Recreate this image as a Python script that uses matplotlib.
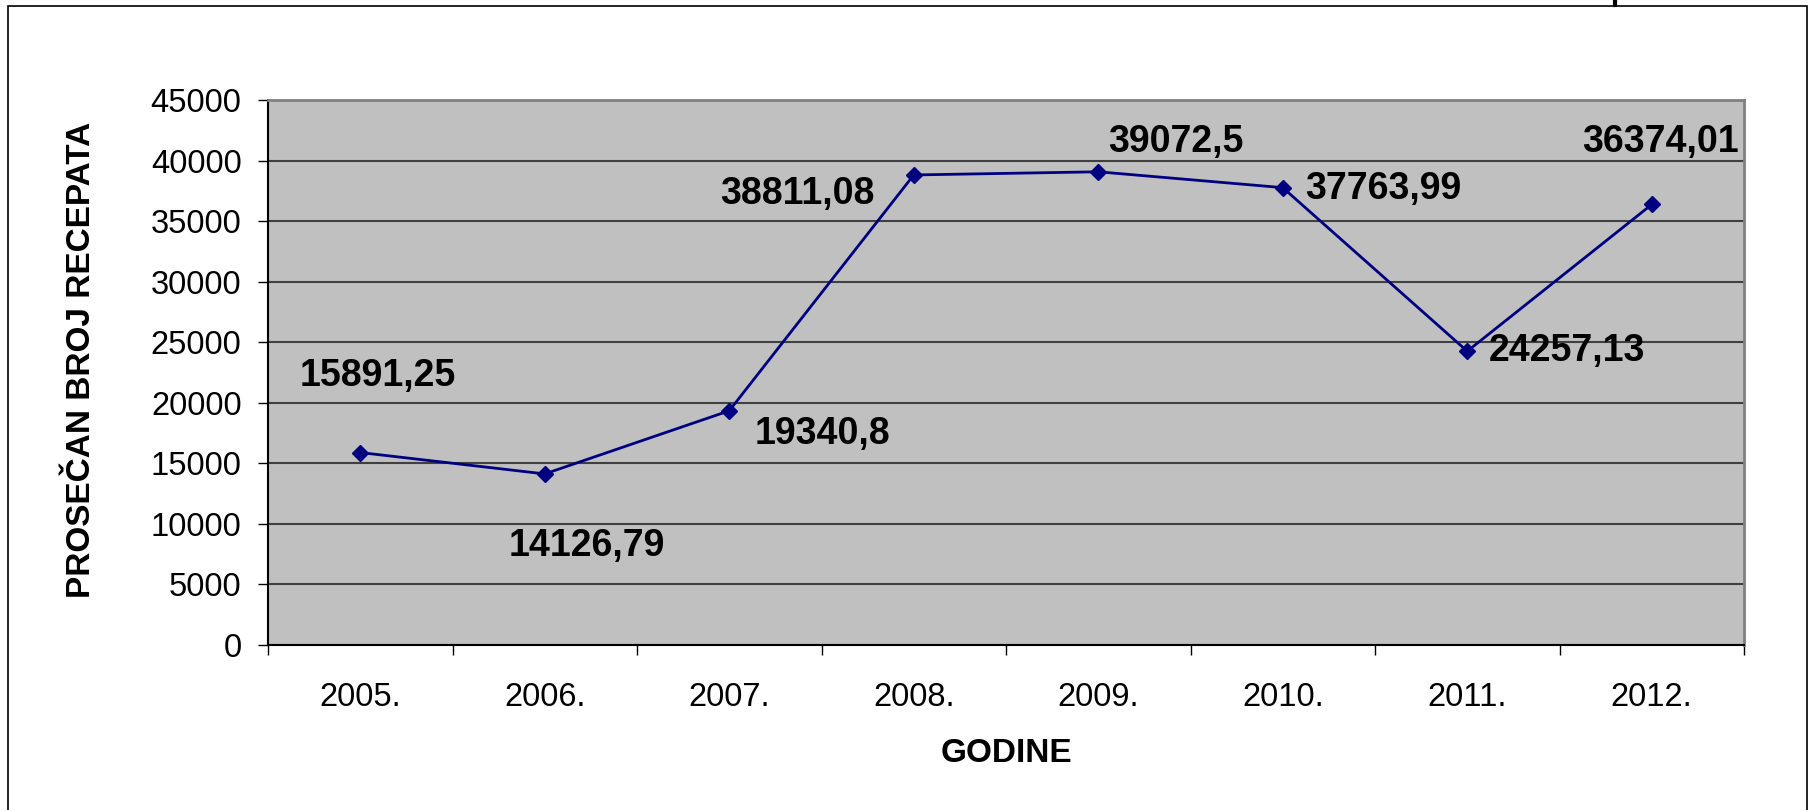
import matplotlib.pyplot as plt
from matplotlib.patches import Rectangle
from matplotlib.lines import Line2D

# data
years = ['2005.', '2006.', '2007.', '2008.', '2009.', '2010.', '2011.', '2012.']
values = [15891.25, 14126.79, 19340.8, 38811.08, 39072.5, 37763.99, 24257.13, 36374.01]
labels = ['15891,25', '14126,79', '19340,8', '38811,08', '39072,5', '37763,99', '24257,13', '36374,01']
# label offsets in pixels (dx, dy) from each point
offsets = [(18, 77), (42, -72), (93, -23), (-116, -19), (78, 30), (101, -1), (100, 0), (9, 62)]
yticks = list(range(0, 45001, 5000))

plt.rcParams['font.family'] = ['Liberation Sans', 'DejaVu Sans']

W, H = 1812, 810
fig = plt.figure(figsize=(W/100, H/100), dpi=100)
# plot area in pixels: left 268, right 1744, top 100, bottom 645
ax = fig.add_axes([268/W, 1-645/H, (1744-268)/W, (645-100)/H])
ax.set_facecolor('#c0c0c0')

x = list(range(len(years)))
ax.plot(x, values, color='#000080', lw=2, marker='D', ms=8.5, mec='#000080', mfc='#000080', zorder=3)

ax.set_xlim(-0.5, len(years)-0.5)
ax.set_ylim(0, 45000)
ax.set_yticks(yticks)
ax.set_yticklabels([str(v) for v in yticks], fontsize=23.5)
ax.yaxis.grid(True, color='#404040', lw=1.5)
ax.set_axisbelow(True)

# categories between ticks
ax.set_xticks(x)
ax.set_xticklabels(years, fontsize=23.5)
ax.set_xticks([i - 0.5 for i in range(len(years)+1)], minor=True)
ax.tick_params(axis='x', which='major', length=0, pad=27)
ax.tick_params(axis='x', which='minor', length=7, width=1, color='black')
ax.tick_params(axis='y', length=7, width=1, pad=12)

for s in ['left', 'bottom']:
    ax.spines[s].set_color('black')
    ax.spines[s].set_linewidth(1.5)
for s in ['top', 'right']:
    ax.spines[s].set_color('#808080')
    ax.spines[s].set_linewidth(2)

for xi, v, lab, (dx, dy) in zip(x, values, labels, offsets):
    ax.annotate(lab, (xi, v), xytext=(dx*0.72, dy*0.72), textcoords='offset points',
                ha='center', va='center', fontsize=27, fontweight='bold', color='black')

fig.text(82/W, 1-360/H, 'PROSEČAN BROJ RECEPATA', rotation=90, ha='center', va='center',
         fontsize=24, fontweight='bold')
fig.text(1006/W, 1-754/H, 'GODINE', ha='center', va='center', fontsize=24, fontweight='bold')

# leftover stroke of page text above the frame
fig.add_artist(Line2D([1615/W, 1615/W], [1, 1-5/H], color='black', lw=3))

# outer border (bottom edge is cut off)
fig.patches.append(Rectangle((8/W, -0.05), (1807-8)/W, 1.05-6/H, transform=fig.transFigure,
                             fill=False, ec='black', lw=1.2))

fig.savefig('out.png', dpi=100)
